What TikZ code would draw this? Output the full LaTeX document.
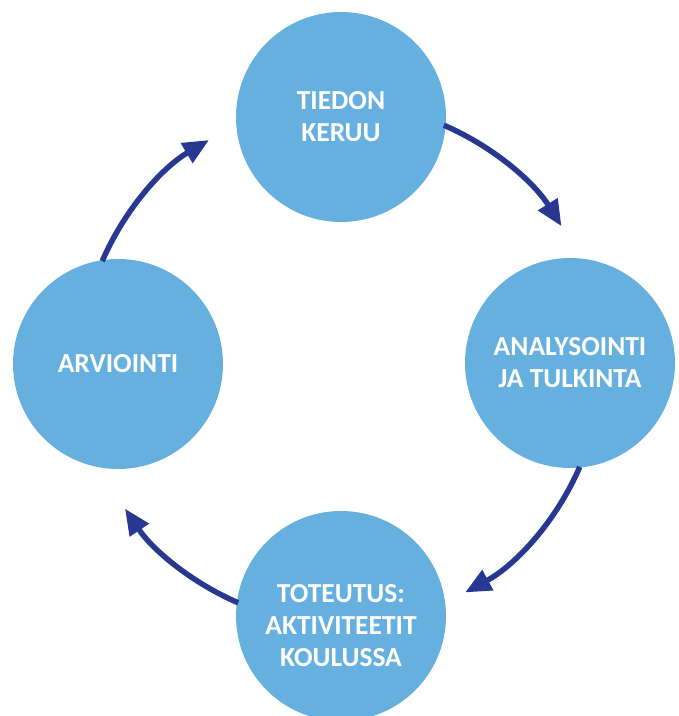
\documentclass[tikz,border=0pt]{standalone}
\usepackage{fontspec}
\setmainfont{Carlito}
\usetikzlibrary{arrows.meta}
\definecolor{bubble}{HTML}{66B0E0}
\definecolor{navy}{HTML}{283891}
\begin{document}
\begin{tikzpicture}[x=1pt,y=1pt,
  bub/.style={circle,fill=bubble,draw=none,minimum size=210pt,inner sep=0pt,
    text=white,align=center,font=\fontsize{27.5}{32}\selectfont\bfseries},
  arr/.style={draw=navy,line width=5.5pt,-{Triangle[length=26pt,width=22pt]}}]
\useasboundingbox (0,0) rectangle (679,716);
\node[bub] (top) at (341,599) {TIEDON\\KERUU};
\node[bub] (right) at (570,353) {ANALYSOINTI\\JA TULKINTA};
\node[bub] (left) at (118,352) {ARVIOINTI};
\node[bub] (bottom) at (341,100) {\raisebox{-18pt}[0pt][0pt]{\begin{tabular}{@{}c@{}}TOTEUTUS:\\AKTIVITEETIT\\KOULUSSA\end{tabular}}};
\coordinate (c) at (341,352);
\draw[arr] (c) ++(66.7:260) arc[start angle=66.7,end angle=32,radius=260];
\draw[arr] (c) ++(-23.3:260) arc[start angle=-23.3,end angle=-61.5,radius=260];
\draw[arr] (c) ++(-113.3:260) arc[start angle=-113.3,end angle=-146.2,radius=260];
\draw[arr] (c) ++(156.7:260) arc[start angle=156.7,end angle=120.5,radius=260];
\end{tikzpicture}
\end{document}
